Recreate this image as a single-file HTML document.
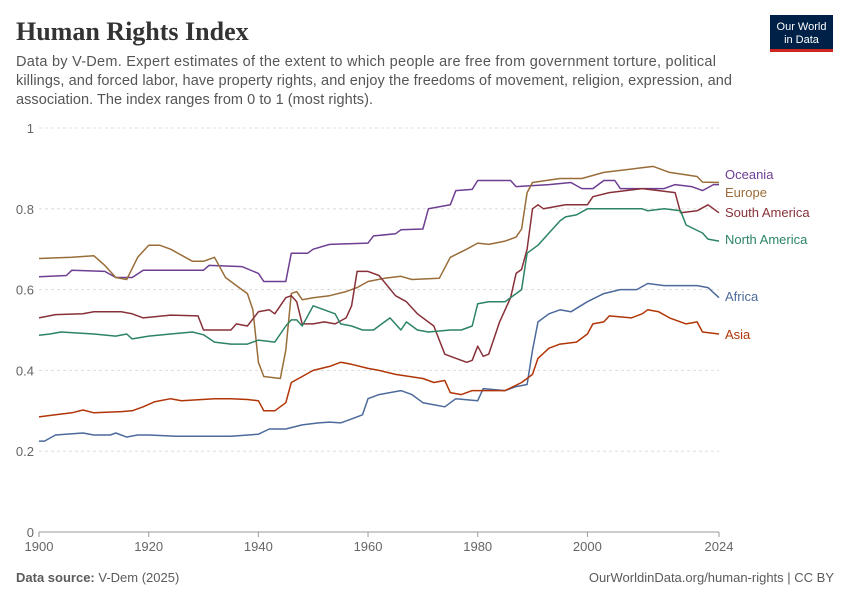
<!DOCTYPE html>
<html><head><meta charset="utf-8"><style>
body{margin:0;background:#fff;width:850px;height:600px;overflow:hidden;font-family:"Liberation Sans",sans-serif;}
svg text{font-family:"Liberation Sans",sans-serif;}
</style></head><body>
<svg id="c" width="850" height="600" xmlns="http://www.w3.org/2000/svg">
<text x="16" y="40" font-size="26" font-weight="bold" fill="#333" style="font-family:'Liberation Serif',serif">Human Rights Index</text>
<rect x="770" y="15" width="63" height="34" fill="#002147"/>
<rect x="770" y="49" width="63" height="3" fill="#ce261e"/>
<text x="801.5" y="30" font-size="11" fill="#fff" text-anchor="middle">Our World</text>
<text x="801.5" y="43" font-size="11" fill="#fff" text-anchor="middle">in Data</text>
<text x="16" y="66" font-size="14.5" fill="#555" textLength="700">Data by V-Dem. Expert estimates of the extent to which people are free from government torture, political</text>
<text x="16" y="85" font-size="14.5" fill="#555" textLength="716">killings, and forced labor, have property rights, and enjoy the freedoms of movement, religion, expression, and</text>
<text x="16" y="104" font-size="14.5" fill="#555" textLength="357">association. The index ranges from 0 to 1 (most rights).</text>
<g id="grid"></g>
<g id="series"></g>
<text x="16" y="582" font-size="13" fill="#5b5b5b"><tspan font-weight="bold">Data source:</tspan> V-Dem (2025)</text>
<text x="834" y="582" font-size="13" fill="#5b5b5b" text-anchor="end">OurWorldinData.org/human-rights | CC BY</text>
</svg>
<script>
const X=y=>39+(y-1900)*680/124, Y=v=>532-v*404;
let g='';
[[0,'0'],[0.2,'0.2'],[0.4,'0.4'],[0.6,'0.6'],[0.8,'0.8'],[1,'1']].forEach(([v,l])=>{
 if(v>0) g+=`<line x1="39" x2="719" y1="${Y(v)}" y2="${Y(v)}" stroke="#ddd" stroke-dasharray="3,3"/>`;
 g+=`<text x="34" y="${Y(v)+5}" font-size="13" fill="#666" text-anchor="end">${l}</text>`;});
g+=`<line x1="39" x2="719" y1="532" y2="532" stroke="#999"/>`;
[1900,1920,1940,1960,1980,2000,2024].forEach(y=>{g+=`<line x1="${X(y)}" x2="${X(y)}" y1="532" y2="537" stroke="#999"/><text x="${X(y)}" y="551" font-size="13" fill="#666" text-anchor="middle">${y}</text>`;});
document.getElementById('grid').innerHTML=g;
const S=[
['Oceania','#6d3e91',175,[1900,.632,1905,.635,1906,.648,1912,.645,1914,.63,1917,.63,1919,.648,1930,.648,1931,.66,1937,.657,1940,.64,1941,.62,1945,.62,1946,.69,1949,.69,1950,.70,1953,.712,1960,.715,1961,.733,1965,.738,1966,.748,1970,.75,1971,.80,1975,.81,1976,.845,1979,.848,1980,.87,1986,.87,1987,.855,1993,.86,1997,.865,1999,.85,2001,.85,2003,.87,2005,.87,2006,.85,2010,.85,2014,.85,2016,.86,2019,.855,2021,.845,2023,.86,2024,.86]],
['Europe','#996d39',193,[1900,.677,1906,.68,1910,.684,1912,.66,1914,.63,1916,.625,1918,.68,1920,.71,1922,.71,1924,.70,1928,.67,1930,.67,1932,.68,1934,.63,1936,.61,1938,.59,1939,.55,1940,.42,1941,.385,1944,.38,1945,.45,1946,.59,1947,.595,1948,.575,1950,.58,1953,.585,1956,.595,1958,.605,1960,.62,1963,.628,1966,.633,1968,.625,1973,.628,1975,.68,1978,.70,1980,.715,1982,.712,1985,.72,1987,.73,1988,.75,1989,.84,1990,.865,1995,.875,1999,.875,2003,.89,2009,.90,2012,.905,2015,.89,2020,.88,2021,.866,2024,.865]],
['South America','#883039',213,[1900,.53,1903,.538,1908,.54,1910,.545,1915,.545,1917,.54,1919,.53,1924,.537,1929,.535,1930,.50,1935,.50,1936,.515,1938,.51,1940,.545,1942,.55,1943,.54,1945,.58,1946,.585,1947,.57,1948,.515,1950,.515,1952,.52,1954,.515,1956,.53,1957,.56,1958,.645,1960,.645,1962,.635,1965,.585,1967,.57,1969,.54,1972,.51,1974,.44,1976,.43,1978,.42,1979,.425,1980,.46,1981,.435,1982,.44,1984,.52,1986,.58,1987,.64,1988,.65,1989,.70,1990,.80,1991,.81,1992,.80,1996,.81,2000,.81,2001,.83,2004,.84,2010,.85,2013,.845,2016,.84,2017,.79,2020,.795,2022,.81,2024,.79]],
['North America','#2c8465',240,[1900,.487,1902,.49,1904,.495,1910,.49,1914,.485,1916,.49,1917,.478,1920,.485,1924,.49,1928,.495,1930,.488,1932,.47,1935,.465,1938,.465,1940,.475,1943,.47,1945,.51,1946,.525,1947,.525,1948,.51,1950,.56,1952,.55,1954,.54,1955,.515,1957,.51,1959,.50,1961,.50,1963,.52,1964,.53,1966,.50,1967,.52,1969,.50,1971,.495,1975,.50,1977,.50,1979,.51,1980,.565,1982,.57,1985,.57,1988,.60,1989,.69,1991,.71,1993,.74,1995,.77,1996,.78,1998,.785,2000,.80,2003,.80,2010,.80,2011,.795,2014,.80,2017,.795,2018,.76,2021,.74,2022,.725,2024,.72]],
['Africa','#4c6a9c',297,[1900,.225,1901,.225,1903,.24,1908,.245,1910,.24,1913,.24,1914,.245,1916,.235,1918,.24,1920,.24,1925,.237,1935,.237,1940,.242,1942,.255,1945,.255,1948,.265,1951,.27,1953,.272,1955,.27,1957,.28,1959,.29,1960,.33,1962,.34,1966,.35,1968,.34,1970,.32,1972,.315,1974,.31,1976,.33,1980,.325,1981,.355,1985,.35,1987,.36,1989,.365,1990,.45,1991,.52,1993,.54,1995,.55,1997,.545,2000,.57,2003,.59,2006,.60,2009,.60,2011,.615,2014,.61,2017,.61,2020,.61,2022,.605,2024,.58]],
['Asia','#b13507',335,[1900,.285,1903,.29,1906,.295,1908,.302,1910,.295,1915,.298,1917,.30,1919,.31,1921,.322,1924,.33,1926,.325,1932,.33,1935,.33,1938,.328,1940,.325,1941,.30,1943,.30,1945,.32,1946,.37,1948,.385,1950,.40,1953,.41,1955,.42,1957,.415,1960,.405,1962,.40,1965,.39,1970,.38,1972,.37,1974,.375,1975,.345,1977,.34,1979,.35,1985,.35,1988,.37,1990,.39,1991,.43,1993,.455,1995,.465,1998,.47,2000,.49,2001,.515,2003,.52,2004,.535,2008,.53,2010,.54,2011,.55,2013,.545,2015,.53,2018,.515,2020,.52,2021,.495,2024,.49]]];
let s='';
S.forEach(([n,c,ly,d])=>{let p=[];for(let i=0;i<d.length;i+=2)p.push(X(d[i]).toFixed(1)+','+Y(d[i+1]).toFixed(1));
s+=`<polyline points="${p.join(' ')}" fill="none" stroke="${c}" stroke-width="1.5" stroke-linejoin="round"/>`;
s+=`<text x="725" y="${ly+4}" font-size="13" fill="${c}">${n}</text>`;});
document.getElementById('series').innerHTML=s;
</script>
</body></html>
